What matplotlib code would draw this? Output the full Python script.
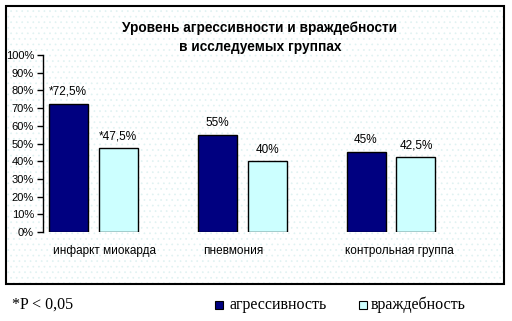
import matplotlib
matplotlib.use("Agg")
import matplotlib.pyplot as plt
from matplotlib.patches import Rectangle
import numpy as np

categories = ["инфаркт миокарда", "пневмония", "контрольная группа"]
aggression = [72.5, 55, 45]
hostility = [47.5, 40, 42.5]
agg_labels = ["*72,5%", "55%", "45%"]
host_labels = ["*47,5%", "40%", "42,5%"]
series_names = ["агрессивность", "враждебность"]
yticks = [0, 10, 20, 30, 40, 50, 60, 70, 80, 90, 100]
title = "Уровень агрессивности и враждебности\nв исследуемых группах"
footnote = "*P < 0,05"

W, H = 512, 321
fig = plt.figure(figsize=(W / 100, H / 100), dpi=100)
fig.patch.set_facecolor("white")

def fx(px):
    return px / W

def fy(py):
    return 1 - py / H

# dotted background + frame
plt.rcParams['hatch.color'] = '#e0f2f2'
plt.rcParams['hatch.linewidth'] = 0.5
bg = Rectangle((fx(6), fy(284)), fx(504) - fx(6), fy(6) - fy(284), transform=fig.transFigure,
               facecolor="white", edgecolor="#e0f2f2", hatch="...", lw=0, zorder=-10)
fig.patches.append(bg)
frame = Rectangle((fx(6), fy(284)), fx(504) - fx(6), fy(6) - fy(284), transform=fig.transFigure,
                  facecolor="none", edgecolor="black", lw=1.5, zorder=5)
fig.patches.append(frame)

ax = fig.add_axes([fx(43), fy(232), fx(490) - fx(43), fy(55) - fy(232)])
ax.set_zorder(1)
ax.patch.set_alpha(0)

NAVY = "#000080"
CYAN = "#CCFFFF"
x = np.arange(len(categories))
bw = 39 / 149
off = 25 / 149
ax.bar(x - off, aggression, bw, color=NAVY, edgecolor="black", lw=1, zorder=3)
ax.bar(x + off, hostility, bw, color=CYAN, edgecolor="black", lw=1, zorder=3)

font = "Liberation Sans"
for xi, v, lab in zip(x - off, aggression, agg_labels):
    ax.annotate(lab, (xi, v), xytext=(0, 8.6), textcoords="offset points",
                ha="center", va="center", fontsize=8.5, family=font)
for xi, v, lab in zip(x + off, hostility, host_labels):
    ax.annotate(lab, (xi, v), xytext=(0, 8.3), textcoords="offset points",
                ha="center", va="center", fontsize=8.5, family=font)

ax.set_xlim(-50 / 149, (490 - 93) / 149)
ax.set_ylim(0, 100)
ax.set_yticks(yticks)
ax.set_yticklabels([f"{t}%" for t in yticks], family=font, fontsize=8)
ax.tick_params(axis="y", direction="out", length=4, width=1, pad=2.5)
ax.set_xticks([])
for s in ["top", "right", "bottom"]:
    ax.spines[s].set_visible(False)
ax.spines["left"].set_linewidth(1)

label_shift = [0.077, -0.057, 0.054]
for xi, c, sh in zip(x, categories, label_shift):
    ax.text(xi + sh, -0.107, c, transform=ax.get_xaxis_transform(), ha="center", va="center",
            fontsize=8.5, family=font)

fig.text(fx(260), fy(37.5), title, ha="center", va="center", fontsize=9.8,
         fontweight="bold", family=font, linespacing=1.4)

serif = "Liberation Serif"
fig.text(fx(12), fy(305), footnote, ha="left", va="center", fontsize=11.5, family=serif)
for sx, tx, col, name in [(215, 229, NAVY, series_names[0]), (359, 371, CYAN, series_names[1])]:
    fig.patches.append(Rectangle((fx(sx), fy(309)), 8 / W, 8 / H, transform=fig.transFigure,
                                 facecolor=col, edgecolor="black", lw=0.8))
    fig.text(fx(tx), fy(305), name, ha="left", va="center", fontsize=11.5, family=serif)

fig.savefig("out.png", dpi=100)
